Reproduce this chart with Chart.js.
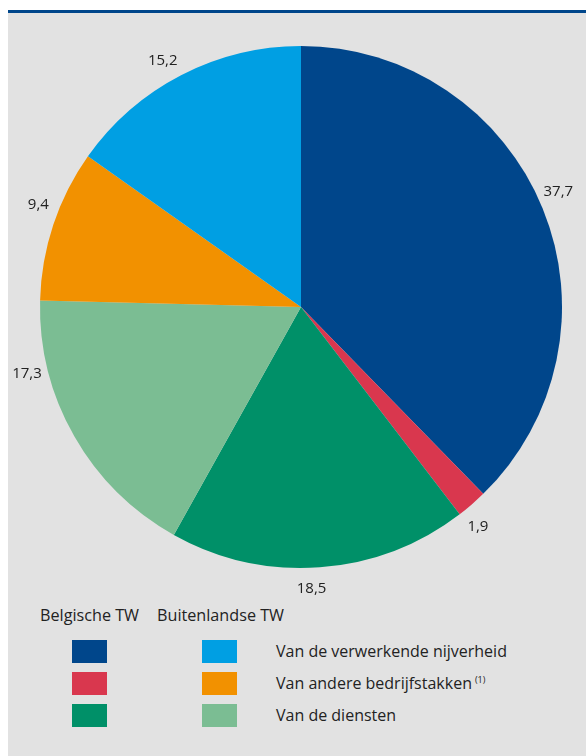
<!DOCTYPE html>
<html>
<head>
<meta charset="utf-8">
<script src="https://cdn.jsdelivr.net/npm/chart.js@4"></script>
<style>
  html, body { margin: 0; padding: 0; background: #fff; }
  body { width: 586px; height: 756px; position: relative; overflow: hidden; font-family: "Open Sans", sans-serif; color: #222; }
  #panel { position: absolute; left: 8px; top: 13px; width: 578px; height: 743px; background: #e2e2e2; }
  #topline { position: absolute; left: 8px; top: 10px; width: 578px; height: 3px; background: #00468b; }
  #chartBox { position: absolute; left: 8px; top: 13px; width: 578px; height: 590px; }
  .head { position: absolute; top: 603px; font-size: 16.2px; line-height: 24px; }
  .sw { position: absolute; width: 35px; height: 23px; }
  .lab { position: absolute; left: 276px; font-size: 16px; line-height: 23px; white-space: nowrap; }
  .lab sup { font-size: 9px; line-height: 0; position: relative; top: -6px; vertical-align: baseline; margin-left: 3px; }
</style>
</head>
<body>
<div id="panel"></div>
<div id="topline"></div>
<div id="chartBox"><canvas id="pie"></canvas></div>
<div id="legend"></div>

<script>
// ---------- DATA ----------
const categories = [
  'Belgische TW - verwerkende nijverheid',
  'Belgische TW - andere bedrijfstakken',
  'Belgische TW - diensten',
  'Buitenlandse TW - diensten',
  'Buitenlandse TW - andere bedrijfstakken',
  'Buitenlandse TW - verwerkende nijverheid'
];
const values = [37.7, 1.9, 18.5, 17.3, 9.4, 15.2];
const sliceColors = ['#00468b', '#d9374e', '#009068', '#7bbd93', '#f29100', '#009fe3'];
// small nudges of the value labels along the rim (degrees)
const labelShiftDeg = [-2, 2, 2, 16, 3, -2];

const legendHeads = ['Belgische TW', 'Buitenlandse TW'];
const legendRows = ['Van de verwerkende nijverheid', 'Van andere bedrijfstakken', 'Van de diensten'];
const legendNotes = ['', '(1)', ''];
const belgianColors = ['#00468b', '#d9374e', '#009068'];
const foreignColors = ['#009fe3', '#f29100', '#7bbd93'];

// ---------- LEGEND ----------
function buildLegend() {
  const box = document.getElementById('legend');
  let html = '';
  html += `<div class="head" style="left:40px">${legendHeads[0]}</div>`;
  html += `<div class="head" style="left:157px">${legendHeads[1]}</div>`;
  legendRows.forEach((txt, i) => {
    const top = 640 + i * 32;
    html += `<div class="sw" style="left:72px;top:${top}px;background:${belgianColors[i]}"></div>`;
    html += `<div class="sw" style="left:202px;top:${top}px;background:${foreignColors[i]}"></div>`;
    const note = legendNotes[i] ? `<sup>${legendNotes[i]}</sup>` : '';
    html += `<div class="lab" style="top:${top}px">${txt}${note}</div>`;
  });
  box.innerHTML = html;
}

// ---------- VALUE LABELS ----------
const rimLabels = {
  id: 'rimLabels',
  afterDatasetsDraw(chart) {
    const ctx = chart.ctx;
    const meta = chart.getDatasetMeta(0);
    ctx.save();
    ctx.font = '15px "Open Sans", sans-serif';
    ctx.fillStyle = '#222';
    ctx.textAlign = 'center';
    ctx.textBaseline = 'middle';
    meta.data.forEach((arc, i) => {
      const p = arc.getProps(['x', 'y', 'startAngle', 'endAngle', 'outerRadius'], true);
      const a = (p.startAngle + p.endAngle) / 2 + labelShiftDeg[i] * Math.PI / 180;
      const r = p.outerRadius + 21;
      const txt = values[i].toFixed(1).replace('.', ',');
      ctx.fillText(txt, p.x + r * Math.cos(a), p.y + r * Math.sin(a));
    });
    ctx.restore();
  }
};

// ---------- CHART ----------
function drawChart() {
  const ctx = document.getElementById('pie').getContext('2d');
  new Chart(ctx, {
    type: 'pie',
    data: {
      labels: categories,
      datasets: [{
        data: values,
        backgroundColor: sliceColors,
        borderWidth: 0,
        hoverOffset: 0,
        radius: 261
      }]
    },
    options: {
      responsive: false,
      animation: false,
      layout: { padding: { left: 32, right: 24, top: 33, bottom: 35 } },
      plugins: {
        legend: { display: false },
        tooltip: { enabled: false }
      }
    },
    plugins: [rimLabels]
  });
}

// ---------- INIT ----------
const cv = document.getElementById('pie');
cv.width = 578;
cv.height = 590;
cv.style.width = '578px';
cv.style.height = '590px';
buildLegend();
drawChart();
</script>
</body>
</html>
